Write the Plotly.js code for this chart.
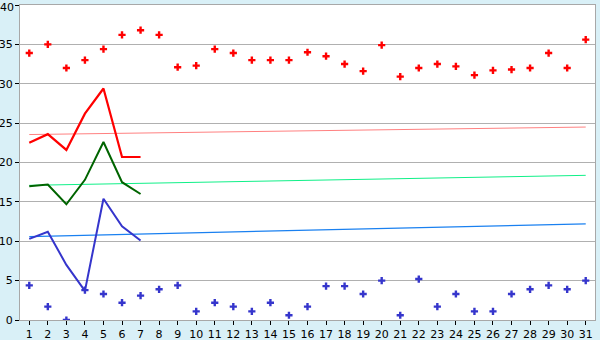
<!DOCTYPE html>
<html><head><meta charset="utf-8">
<script src="https://cdn.plot.ly/plotly-3.0.1.min.js"></script>
<style>html,body{margin:0;padding:0;background:#d9f0f7;}#chart{width:600px;height:340px;}</style>
</head><body><div id="chart"></div>
<script>
const days = Array.from({length:31},(_,i)=>i+1);
const maxPoints = [33.9,35.0,32.0,33.0,34.4,36.2,36.8,36.2,32.1,32.3,34.4,33.9,33.0,33.0,33.0,34.0,33.5,32.5,31.6,34.9,30.9,32.0,32.5,32.2,31.1,31.7,31.8,32.0,33.9,32.0,35.6];
const minPoints = [4.4,1.7,0.0,3.8,3.3,2.2,3.1,3.9,4.4,1.1,2.2,1.7,1.1,2.2,0.6,1.7,4.3,4.3,3.3,5.0,0.6,5.2,1.7,3.3,1.1,1.1,3.3,3.9,4.4,3.9,5.0];
const weekDays = [1,2,3,4,5,6,7];
const redLine = [22.5,23.6,21.6,26.2,29.4,20.7,20.7];
const greenLine = [17.0,17.2,14.7,17.8,22.6,17.5,16.0];
const blueLine = [10.3,11.2,7.0,3.7,15.4,11.9,10.1];
const trendDays = [1,31];
const redTrend = [23.55,24.5];
const greenTrend = [17.1,18.37];
const blueTrend = [10.6,12.2];
const xTicks = days;
const yTicks = [0,5,10,15,20,25,30,35,40];
const yMax = 40;

const traces = [
  {x:trendDays,y:redTrend,mode:'lines',line:{color:'#ff8080',width:1}},
  {x:trendDays,y:greenTrend,mode:'lines',line:{color:'#10f088',width:1}},
  {x:trendDays,y:blueTrend,mode:'lines',line:{color:'#1a80f0',width:1.2}},
  {x:weekDays,y:redLine,mode:'lines',line:{color:'#ff0000',width:2.2}},
  {x:weekDays,y:greenLine,mode:'lines',line:{color:'#006400',width:2}},
  {x:weekDays,y:blueLine,mode:'lines',line:{color:'#3535cc',width:2}},
  {x:days,y:maxPoints,mode:'markers',marker:{color:'#ff0000',symbol:'cross',size:6,line:{width:0}}},
  {x:days,y:minPoints,mode:'markers',marker:{color:'#3535cc',symbol:'cross',size:6,line:{width:0}}}
];
const layout = {
  width:600,height:340,
  margin:{l:20,r:5,t:5,b:20,pad:0},
  paper_bgcolor:'#d9f0f7',plot_bgcolor:'#ffffff',
  showlegend:false,
  font:{family:'DejaVu Sans, Verdana, sans-serif',size:11,color:'#000'},
  xaxis:{range:[0.5,31.5],tickvals:xTicks,ticktext:xTicks.map(String),showgrid:false,zeroline:false,
    ticks:'outside',ticklen:4,tickcolor:'#000',showline:true,linecolor:'#a8a8a8',linewidth:1,mirror:true,fixedrange:true,tickfont:{size:11}},
  yaxis:{range:[0,40],tickvals:yTicks,ticktext:yTicks.map(String),showgrid:true,gridcolor:'#b0b0b0',gridwidth:1,zeroline:false,
    ticks:'outside',ticklen:4,tickcolor:'#000',showline:true,linecolor:'#a8a8a8',linewidth:1,mirror:true,fixedrange:true,tickfont:{size:11}},
  annotations:[{xref:'paper',yref:'y',x:0,y:yMax,text:String(yMax),showarrow:false,xanchor:'right',yanchor:'top',xshift:-5,yshift:5,borderpad:0,
    font:{family:'DejaVu Sans, Verdana, sans-serif',size:11,color:'#000'}}]
};
Plotly.newPlot('chart',traces,layout,{displayModeBar:false,staticPlot:true});
</script></body></html>
